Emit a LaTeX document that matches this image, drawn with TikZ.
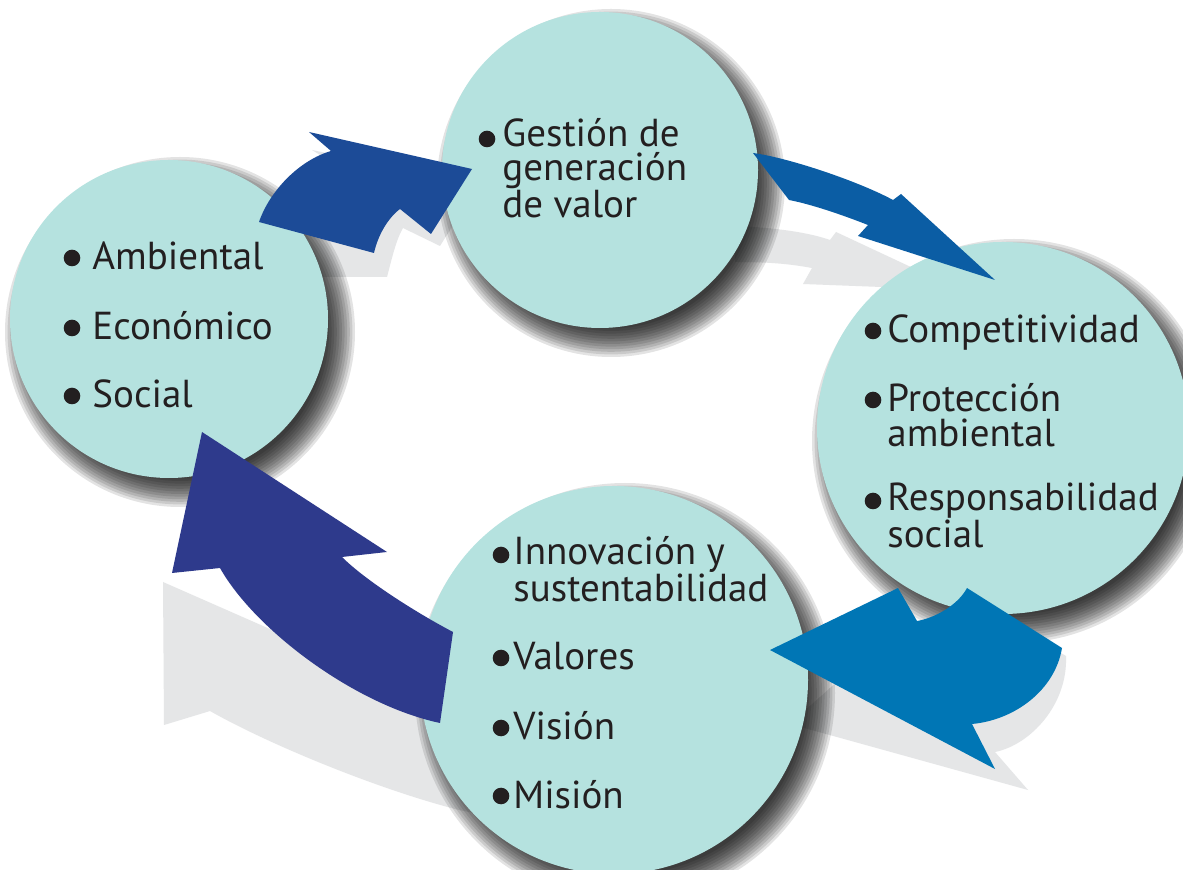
\documentclass[tikz,border=0pt]{standalone}
\usepackage{fontspec}
\setmainfont{PT Sans}
\definecolor{circfill}{RGB}{181,226,223}
\definecolor{aone}{RGB}{28,75,151}
\definecolor{atwo}{RGB}{11,93,164}
\definecolor{athree}{RGB}{0,118,181}
\definecolor{afour}{RGB}{46,58,140}
\definecolor{shgray}{RGB}{229,230,231}
\definecolor{textc}{RGB}{35,31,32}
\newcommand{\circshadow}[3]{%
  \foreach \k in {0,...,11}{%
    \fill[black,opacity=0.11] ({#1+11},{#2+13}) circle ({#3+16-2.6*\k});
  }%
}
\begin{document}
\begin{tikzpicture}[x=0.5pt,y=-0.5pt,
  circ/.style={circle,fill=circfill,inner sep=0pt},
  txt/.style={anchor=base west,inner sep=0pt,align=left,text=textc,font=\fontsize{19.5}{17.5}\selectfont},
  tight/.style={font=\fontsize{19.5}{17}\selectfont},
  bul/.style={circle,fill=textc,inner sep=0pt,minimum size=8.3pt},
  arrowshadow/.style={fill=shgray}]
\useasboundingbox (0,0) rectangle (1183,870);
\clip (0,0) rectangle (1183,870);
\fill[white] (0,0) rectangle (1183,870);
% arrow shadows
\fill[arrowshadow] (312,150) -- (333,163) .. controls (300,175) and (270,205) .. (262,240) -- (300,277) -- (387,277) .. controls (392,258) and (396,240) .. (403,228) -- (440,246) -- (478,185) -- cycle;
\fill[arrowshadow] (735,226) .. controls (780,228) and (810,233) .. (830,240) -- (836,232) -- (960,290) -- (803,284) -- (812,268) .. controls (790,264) and (770,262) .. (735,262) -- cycle;
\fill[arrowshadow] (790,724) -- (900,625) -- (920,640) .. controls (940,632) and (960,618) .. (972,600) -- (1066,656) .. controls (1068,705) and (1030,745) .. (995,752) -- (1028,790) -- cycle;
\fill[arrowshadow] (163,582) -- (164,725) -- (210,711) .. controls (270,745) and (380,790) .. (459,810) -- (485,815) -- (485,745) .. controls (440,722) and (370,690) .. (327,673) -- (345,662) -- cycle;
% circle shadows
\circshadow{169}{319}{159}
\circshadow{600}{170}{158}
\circshadow{1003}{428}{186}
\circshadow{614}{680}{194}
% circles
\node[circ,minimum size=159pt] (L) at (169,319) {};
\node[circ,minimum size=158pt] (T) at (600,170) {};
\node[circ,minimum size=186pt] (R) at (1003,428) {};
\node[circ,minimum size=194pt] (B) at (614,680) {};
% arrows
\fill[aone] (309,132) -- (331,151) .. controls (300,160) and (270,190) .. (259,222) -- (374,253) .. controls (378,235) and (388,218) .. (400,209) -- (431,234) -- (472,169) -- cycle;
\fill[atwo] (753,153) .. controls (790,158) and (860,182) .. (893,200) -- (901,194) -- (995,280) -- (858,236) -- (868,225) .. controls (840,214) and (810,204) .. (789,200) -- cycle;
\fill[athree] (770,650) -- (898,588) -- (917,621) .. controls (935,618) and (958,605) .. (967,588) -- (1062,648) .. controls (1055,690) and (1015,720) .. (972,724) -- (995,769) -- cycle;
\fill[afour] (202,432) -- (172,573) -- (220,568) .. controls (255,630) and (355,705) .. (440,723) -- (453,632) .. controls (415,612) and (365,580) .. (342,557) -- (387,552) -- cycle;
% left circle text
\node[bul] (lb1) at (72,258) {};
\node[txt] (l1) at (92,270) {Ambiental};
\node[bul] (lb2) at (72,328) {};
\node[txt] (l2) at (92,340) {Económico};
\node[bul] (lb3) at (72,396) {};
\node[txt] (l3) at (92,408) {Social};
% top circle text (base anchor = last line)
\node[bul] (tb1) at (487,139) {};
\node[txt,tight] (t1) at (502,218) {Gestión de\\generación\\de valor};
% right circle text
\node[bul] (rb1) at (873,331) {};
\node[txt] (r1) at (887,343) {Competitividad};
\node[bul] (rb2) at (873,400) {};
\node[txt] (r2) at (887,447) {Protección\\ambiental};
\node[bul] (rb3) at (873,501) {};
\node[txt] (r4) at (887,548) {Responsabilidad\\social};
% bottom circle text
\node[bul] (bb1) at (501,555) {};
\node[txt] (b1) at (513,602) {Innovación y\\sustentabilidad};
\node[bul] (bb2) at (501,658) {};
\node[txt] (b3) at (513,670) {Valores};
\node[bul] (bb3) at (501,728) {};
\node[txt] (b4) at (513,740) {Visión};
\node[bul] (bb4) at (501,796) {};
\node[txt] (b5) at (513,808) {Misión};
\end{tikzpicture}
\end{document}
